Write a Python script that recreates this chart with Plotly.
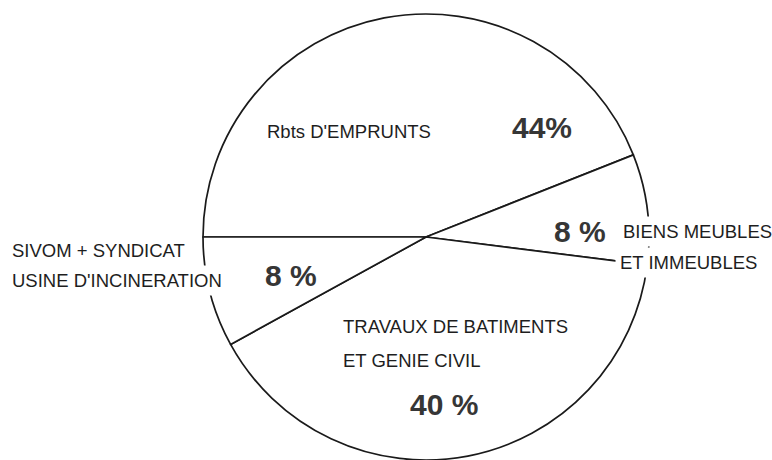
import plotly.graph_objects as go

labels = ["Rbts D'EMPRUNTS", "BIENS MEUBLES ET IMMEUBLES", "TRAVAUX DE BATIMENTS ET GENIE CIVIL", "SIVOM + SYNDICAT USINE D'INCINERATION"]
values = [44, 8, 40, 8]
pct_text = ["44%", "8 %", "40 %", "8 %"]

W, H = 772, 460
cx, cy, r = 426, 237, 223

fig = go.Figure(go.Pie(
    labels=labels, values=values, sort=False, direction="clockwise", rotation=270,
    textinfo="none", hoverinfo="label+percent", showlegend=False,
    marker=dict(colors=["white"] * 4, line=dict(color="#1a1a1a", width=1.7)),
    domain=dict(x=[(cx - r) / W, (cx + r) / W], y=[max(0, (H - cy - r) / H), (H - cy + r) / H]),
))

font_lbl = dict(family="Liberation Sans, Arial, sans-serif", size=18.5, color="#1e1e1e")
font_pct = dict(family="Liberation Sans, Arial, sans-serif", size=30, color="#363636")

def ann(x, y, text, font, xanchor="left", bg="white"):
    fig.add_annotation(x=(x - 5 if xanchor == "left" else x) / W, y=1 - y / H,
                       xref="paper", yref="paper", text=text,
                       showarrow=False, xanchor=xanchor, yanchor="middle", font=font,
                       bgcolor=bg, borderpad=4)

# category labels (x = left edge of text, y = vertical centre)
ann(267, 131, "Rbts D'EMPRUNTS", font_lbl)
ann(623, 231, "BIENS MEUBLES", font_lbl)
ann(620, 262, "ET IMMEUBLES", font_lbl)
ann(343, 326, "TRAVAUX DE BATIMENTS", font_lbl)
ann(343, 360, "ET GENIE CIVIL", font_lbl)
ann(12, 250, "SIVOM + SYNDICAT", font_lbl)
ann(12, 280, "USINE D'INCINERATION", font_lbl)

# percentage labels (centred)
ann(542, 127, "<b>" + pct_text[0] + "</b>", font_pct, "center", "rgba(0,0,0,0)")
ann(580, 231, "<b>" + pct_text[1] + "</b>", font_pct, "center", "rgba(0,0,0,0)")
ann(444, 404, "<b>" + pct_text[2] + "</b>", font_pct, "center", "rgba(0,0,0,0)")
ann(291, 275, "<b>" + pct_text[3] + "</b>", font_pct, "center", "rgba(0,0,0,0)")

fig.update_layout(width=W, height=H, margin=dict(l=0, r=0, t=0, b=0),
                  paper_bgcolor="white", plot_bgcolor="white")
fig.write_html("out.html", config={"displayModeBar": False},
               post_script="document.body.style.margin='0';document.body.style.overflow='hidden';")
